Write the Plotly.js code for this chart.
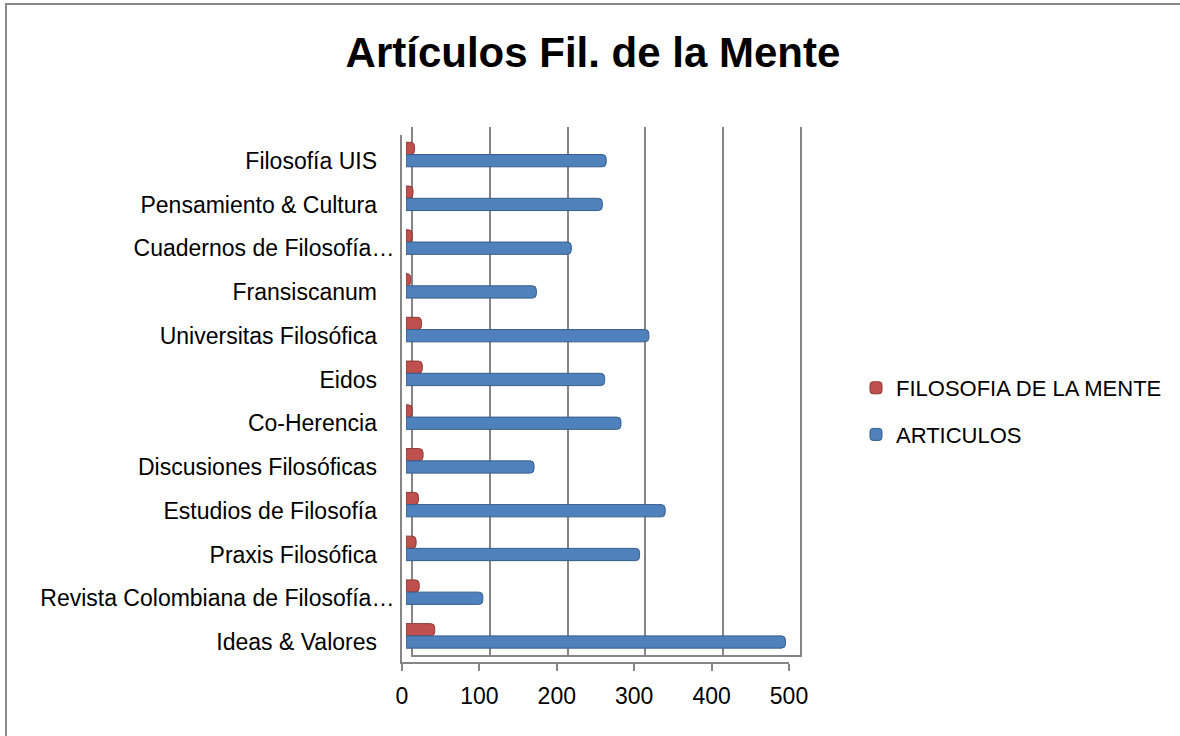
<!DOCTYPE html>
<html>
<head>
<meta charset="utf-8">
<script src="https://cdn.plot.ly/plotly-3.0.1.min.js"></script>
<style>
  html, body { margin: 0; padding: 0; background: #ffffff; overflow: hidden; }
  #chart { position: absolute; left: 0; top: 0; width: 1180px; height: 736px; }
  #edgeTop { position: absolute; left: 5px; top: 3px; width: 1175px; height: 0; border-top: 2px solid #898989; }
  #edgeLeft { position: absolute; left: 5px; top: 3px; width: 0; height: 733px; border-left: 2px solid #898989; }
</style>
</head>
<body>
<div id="edgeTop"></div>
<div id="edgeLeft"></div>
<div id="chart"></div>
<script>
// Categories, bottom to top as drawn
const journals = [
  "Ideas & Valores",
  "Revista Colombiana de Filosofía…",
  "Praxis Filosófica",
  "Estudios de Filosofía",
  "Discusiones Filosóficas",
  "Co-Herencia",
  "Eidos",
  "Universitas Filosófica",
  "Fransiscanum",
  "Cuadernos de Filosofía…",
  "Pensamiento & Cultura",
  "Filosofía UIS"
];
const articulos       = [489, 99, 301, 334, 165, 277, 256, 313, 168, 213, 253, 258];
const filosofiaMente  = [37, 17, 13, 16, 22, 8, 21, 20, 6, 8, 9, 11];
const xTicks = [0, 100, 200, 300, 400, 500];
const seriesNames = ["FILOSOFIA DE LA MENTE", "ARTICULOS"];

const W = 1180, H = 736;
const fx = p => p / W;
const fy = p => 1 - p / H;

const tickText = journals.map(j => j.endsWith("…") ? j : j + "\u00a0\u00a0\u2009");

const FONT = "Liberation Sans, Arial, sans-serif";
const GRID = "#868686";

const data = [
  { type: "scatter", x: [], y: [], xaxis: "x", yaxis: "y", showlegend: false, hoverinfo: "skip" },
  { type: "scatter", x: [], y: [], xaxis: "x2", yaxis: "y2", showlegend: false, hoverinfo: "skip" },
  {
    type: "bar", orientation: "h", name: seriesNames[0], legendgroup: "a",
    y: journals, x: filosofiaMente, xaxis: "x3", yaxis: "y3",
    offset: 0.14, width: 0.28,
    marker: { color: "#C0504D", line: { color: "#8C3836", width: 1 }, cornerradius: 4 }
  },
  {
    type: "bar", orientation: "h", name: seriesNames[1], legendgroup: "b",
    y: journals, x: articulos, xaxis: "x3", yaxis: "y3",
    offset: -0.14, width: 0.28,
    marker: { color: "#4F81BD", line: { color: "#385D8A", width: 1 }, cornerradius: 4 }
  }
];

const layout = {
  width: W, height: H, autosize: false,
  margin: { l: 0, r: 0, t: 0, b: 0, pad: 0 },
  paper_bgcolor: "rgba(0,0,0,0)", plot_bgcolor: "rgba(0,0,0,0)",
  font: { family: FONT, color: "#000000" },
  barmode: "overlay",
  title: {
    text: "<b>Artículos Fil. de la Mente</b>",
    font: { family: FONT, size: 42, color: "#000000" },
    x: 0.5025, xref: "paper", xanchor: "center",
    y: fy(52), yref: "paper", yanchor: "middle"
  },
  // back wall (gridlines)
  xaxis: {
    domain: [fx(413), fx(800)], range: [0, 500], anchor: "y",
    tickvals: xTicks, showticklabels: false, ticks: "",
    showgrid: true, gridcolor: GRID, gridwidth: 2, zeroline: false,
    showline: true, linecolor: GRID, linewidth: 2, fixedrange: true
  },
  yaxis: {
    domain: [fy(655), fy(127)], range: [0, 1], anchor: "x",
    showgrid: false, zeroline: false, showticklabels: false, ticks: "",
    showline: true, mirror: true, linecolor: GRID, linewidth: 2, fixedrange: true
  },
  // front frame with tick labels
  xaxis2: {
    domain: [fx(402), fx(789)], range: [0, 500], anchor: "y2",
    tickvals: xTicks, ticktext: xTicks.map(String),
    ticks: "outside", ticklen: 7, tickwidth: 2, tickcolor: GRID,
    tickfont: { family: FONT, size: 23, color: "#000000" },
    ticklabelstandoff: 5,
    showgrid: false, zeroline: false,
    showline: true, linecolor: GRID, linewidth: 2, fixedrange: true
  },
  yaxis2: {
    domain: [fy(662), fy(135)], range: [0, 1], anchor: "x2",
    showgrid: false, zeroline: false, showticklabels: false, ticks: "",
    showline: true, linecolor: GRID, linewidth: 2, fixedrange: true
  },
  // bars
  xaxis3: {
    domain: [fx(406), fx(794)], range: [0, 500], anchor: "y3",
    visible: false, showgrid: false, zeroline: false, fixedrange: true
  },
  yaxis3: {
    domain: [fy(663.9), fy(138.8)], type: "category", range: [-0.5, 11.5], anchor: "x3",
    tickmode: "array", tickvals: journals, ticktext: tickText,
    ticks: "outside", ticklen: 6, tickcolor: "rgba(0,0,0,0)",
    tickfont: { family: FONT, size: 23, color: "#000000" },
    showgrid: false, zeroline: false, showline: false, fixedrange: true
  },
  legend: {
    x: fx(856), xanchor: "left", y: fy(367), yanchor: "top",
    traceorder: "grouped", tracegroupgap: 15,
    font: { family: FONT, size: 22, color: "#000000" },
    bgcolor: "rgba(0,0,0,0)", borderwidth: 0
  },
  showlegend: true
};

Plotly.newPlot("chart", data, layout, { displayModeBar: false, staticPlot: true });
</script>
</body>
</html>
